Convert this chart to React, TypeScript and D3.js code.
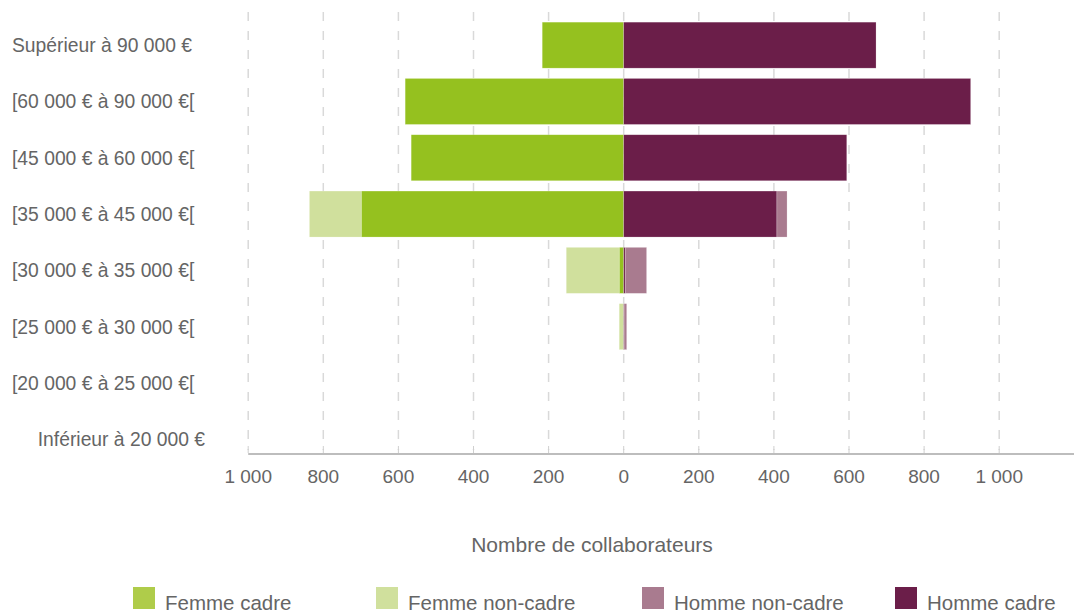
import React from "react";
import * as d3 from "d3";

const categories = [
  "Supérieur à 90 000 €",
  "[60 000 € à 90 000 €[",
  "[45 000 € à 60 000 €[",
  "[35 000 € à 45 000 €[",
  "[30 000 € à 35 000 €[",
  "[25 000 € à 30 000 €[",
  "[20 000 € à 25 000 €[",
  "Inférieur à 20 000 €",
];
const femmeCadre = [217, 582, 566, 699, 12, 0, 0, 0];
const femmeNonCadre = [0, 0, 0, 138, 141, 12, 0, 0];
const hommeCadre = [672, 924, 594, 408, 4, 1, 0, 0];
const hommeNonCadre = [0, 0, 0, 27, 57, 7, 0, 0];
const xTicks = [-1000, -800, -600, -400, -200, 0, 200, 400, 600, 800, 1000];
const seriesNames = ["Femme cadre", "Femme non-cadre", "Homme non-cadre", "Homme cadre"];

const COLORS = {
  femmeCadre: "#95c11f",
  femmeNonCadre: "#d0e09d",
  hommeNonCadre: "#a97b8f",
  hommeCadre: "#6b1e49",
};
const LEGEND_COLORS = ["#afcc4a", "#d0e09d", "#a97b8f", "#6b1e49"];

const FONT = "'Liberation Sans', Arial, sans-serif";
const TEXT = "#656565";

export default function App() {
  const W = 1074;
  const H = 613;
  const x = d3.scaleLinear().domain([-1000, 1200]).range([248.2, 1074.3]);
  const y = d3
    .scaleBand<string>()
    .domain(categories)
    .range([17, 467.4])
    .paddingInner(0.183)
    .paddingOuter(0.0915);
  const bh = y.bandwidth();
  const fmt = (v: number) => {
    const a = Math.abs(v);
    return a >= 1000 ? `${Math.floor(a / 1000)} ${String(a % 1000).padStart(3, "0")}` : String(a);
  };
  const axisY = 454;

  const bars: React.ReactNode[] = [];
  categories.forEach((c, i) => {
    const yy = y(c)!;
    const segs = [
      { x0: -femmeCadre[i], x1: 0, col: COLORS.femmeCadre },
      { x0: -femmeCadre[i] - femmeNonCadre[i], x1: -femmeCadre[i], col: COLORS.femmeNonCadre },
      { x0: 0, x1: hommeCadre[i], col: COLORS.hommeCadre },
      { x0: hommeCadre[i], x1: hommeCadre[i] + hommeNonCadre[i], col: COLORS.hommeNonCadre },
    ];
    segs.forEach((s, j) => {
      if (s.x1 - s.x0 <= 0) return;
      bars.push(
        <rect
          key={`${i}-${j}`}
          x={x(s.x0)}
          y={yy}
          width={x(s.x1) - x(s.x0)}
          height={bh}
          fill={s.col}
          stroke="#ffffff"
          strokeOpacity={0.35}
          strokeWidth={0.6}
        />
      );
    });
  });

  const legendX = [133, 376, 642, 895];

  return (
    <svg width={W} height={H} style={{ position: "absolute", left: 0, top: 0 }} fontFamily={FONT}>
      <rect x={0} y={0} width={W} height={H} fill="#ffffff" />
      {xTicks.map((t) => (
        <line
          key={`g${t}`}
          x1={x(t)}
          x2={x(t)}
          y1={12}
          y2={450}
          stroke="#d9d9d9"
          strokeWidth={1.5}
          strokeDasharray="9 10"
        />
      ))}
      {bars}
      <line x1={x(-1000)} x2={W} y1={axisY} y2={axisY} stroke="#bdbdbd" strokeWidth={2} />
      {xTicks.map((t) => (
        <line key={`t${t}`} x1={x(t)} x2={x(t)} y1={446} y2={453} stroke="#cfcfcf" strokeWidth={1} />
      ))}
      {xTicks.map((t) => (
        <text
          key={`l${t}`}
          x={x(t)}
          y={483}
          textAnchor="middle"
          fontSize={19}
          fill={TEXT}
        >
          {fmt(t)}
        </text>
      ))}
      {categories.map((c, i) => {
        const last = i === categories.length - 1;
        return (
          <text
            key={c}
            x={last ? 205 : 12}
            y={y(c)! + bh / 2 + 7}
            textAnchor={last ? "end" : "start"}
            fontSize={19.3}
            fill={TEXT}
          >
            {c}
          </text>
        );
      })}
      <text x={592} y={552} textAnchor="middle" fontSize={21} fill={TEXT}>
        Nombre de collaborateurs
      </text>
      {seriesNames.map((n, i) => (
        <g key={n}>
          <rect x={legendX[i]} y={587} width={22} height={22} fill={LEGEND_COLORS[i]} />
          <text x={legendX[i] + 32} y={610} fontSize={20.5} fill={TEXT}>
            {n}
          </text>
        </g>
      ))}
    </svg>
  );
}
